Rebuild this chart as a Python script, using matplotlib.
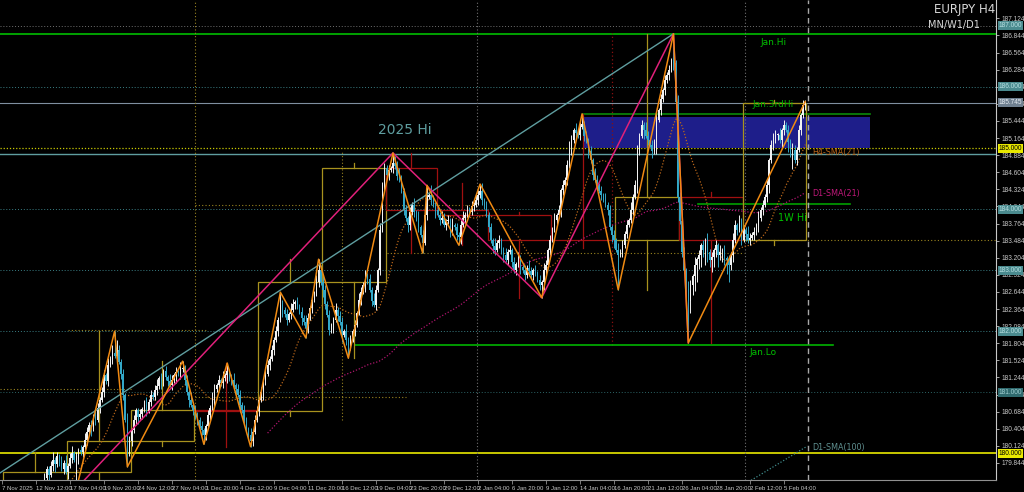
import numpy as np
import pandas as pd
import matplotlib
matplotlib.use("Agg")
import matplotlib.pyplot as plt
from matplotlib.patches import Rectangle

# EURJPY H4 closes, in hundredths of a yen above 180.00, 16 bars per row
# bar 0 = 7 Nov 20:00, last bar = 6 Feb 20:00
close_rows = [
    "-300 -280 -290 -260 -240 -230 -210 -215 -190 -170 -160 -150 -140 -120 -110 -100",
    "-90 -80 -70 -55 -40 -25 -35 -20 -10 -18 -5 -12 -25 -15 -30 -20",
    "-8 0 -10 -5 5 2 10 22 35 47 40 60 55 75 88 100",
    "128 118 145 155 165 160 170 150 130 95 55 0 20 38 55 71",
    "60 65 72 80 70 85 96 92 104 110 123 118 135 125 118 112",
    "120 128 133 130 138 140 120 100 88 80 71 60 55 45 38 30",
    "45 63 75 88 105 112 120 115 123 128 135 122 120 112 105 96",
    "80 71 55 40 30 20 35 55 70 88 100 120 130 145 155 169",
    "186 200 219 243 235 228 219 228 235 245 248 240 232 222 215 205",
    "222 238 252 262 280 300 280 268 245 227 202 210 219 235 225 215",
    "194 200 186 178 186 200 211 230 251 265 276 292 285 268 250 243",
    "268 300 366 440 468 456 464 467 475 470 455 448 430 399 385 374",
    "395 407 395 385 370 358 345 390 420 423 415 407 398 391 382 385",
    "374 380 382 366 374 370 358 355 374 385 391 399 395 405 407 415",
    "423 430 415 405 391 370 349 340 333 345 349 330 325 317 330 333",
    "314 300 310 317 305 300 292 304 298 292 300 295 284 276 280 300",
    "309 333 350 366 382 390 399 431 440 448 472 500 513 529 525 521",
    "535 540 520 513 495 480 456 448 439 430 423 415 407 399 370 358",
    "349 333 325 330 341 360 374 382 399 420 439 497 520 538 530 520",
    "513 505 495 510 546 562 580 595 611 620 628 644 640 575 420 380",
    "330 300 270 250 276 290 309 318 325 341 333 349 330 317 322 333",
    "341 325 330 333 320 317 309 325 349 374 366 382 350 366 360 349",
    "353 358 362 374 385 399 407 420 439 480 505 513 521 521 513 529",
    "538 530 510 489 497 480 497 529 554 571 574",
]
# wick lengths above / below the body, in units of 0.04 yen
wick_up_rows = [
    "2131 2213 1221 3121", "1213 2112 3121 2131", "2312 1213 2121 3212", "2131 3242 1213 2121",
    "1212 3121 2312 1213", "2121 3212 1312 2121", "1213 2121 3121 2312", "2121 1312 2121 3212",
    "1213 2121 3212 1213", "2121 3123 2121 1312", "2131 2121 3212 1213", "2131 2121 2323 2121",
    "2131 3121 2142 1213", "2121 3121 2312 1213", "2131 2121 3121 2312", "1213 2121 3212 1213",
    "2121 3121 2123 2131", "2312 1213 2121 3121", "2131 2121 3122 1213", "2121 3121 2121 3132",
    "1213 2131 2121 3121", "2131 2121 3212 1213", "2121 3121 2123 2131", "2121 3212 121",
]
wick_dn_rows = [
    "1213 2121 3121 2312", "2121 3121 2312 1213", "1212 3121 2131 2121", "2121 2131 2213 1212",
    "3121 2121 1213 2121", "2131 2121 3121 2121", "2121 3121 2131 2121", "3121 2121 1213 2121",
    "2121 3121 2121 1313", "2121 1213 2121 3121", "3121 2121 1213 2121", "2121 3121 2121 1213",
    "2121 2131 2121 3121", "1213 2121 3121 2121", "2121 1213 2121 3121", "2121 3121 2121 1213",
    "2121 1213 2121 3121", "2121 3121 2121 1213", "3121 2121 1213 2141", "2131 5121 2121 3121",
    "2143 5467 4536 4354", "3524 3672 3121 2131", "2121 3121 2312 1213", "2141 6121 212",
]

# zigzag swing points (bar, price)
zz_bars = [35, 53, 59, 85, 95, 106, 117, 131, 143, 149, 163, 184, 198, 200, 215, 225, 254, 273, 290, 316, 323, 378]
zz_prices = [179.42, 182.00, 179.78, 181.51, 180.15, 181.48, 180.11, 182.64, 181.89, 183.18, 181.56, 184.92,
             183.28, 184.39, 183.41, 184.41, 182.55, 185.56, 182.68, 186.87, 181.81, 185.76]
big_zz_bars = [27, 184, 254, 316, 323]
big_zz_prices = [179.13, 184.92, 182.55, 186.87, 181.81]
trend_bars = [-1, 316]
trend_prices = [179.68, 186.87]
sma100_bars = [345, 379]
sma100_prices = [179.40, 180.12]

week_starts = [1, 31, 61, 91, 121, 151, 181, 205, 229, 259, 289, 319, 349]

tick_bars = list(range(0, 369, 16))
tick_labels = ["7 Nov 2025", "12 Nov 12:00", "17 Nov 04:00", "19 Nov 20:00", "24 Nov 12:00", "27 Nov 04:00",
               "1 Dec 20:00", "4 Dec 12:00", "9 Dec 04:00", "11 Dec 20:00", "16 Dec 12:00", "19 Dec 04:00",
               "23 Dec 20:00", "29 Dec 12:00", "2 Jan 04:00", "6 Jan 20:00", "9 Jan 12:00", "14 Jan 04:00",
               "16 Jan 20:00", "21 Jan 12:00", "26 Jan 04:00", "28 Jan 20:00", "2 Feb 12:00", "5 Feb 04:00"]
price_ticks = [179.844, 180.124, 180.404, 180.684, 180.964, 181.244, 181.524, 181.804, 182.084, 182.364,
               182.644, 182.924, 183.204, 183.484, 183.764, 184.044, 184.324, 184.604, 184.884, 185.164,
               185.444, 185.724, 186.004, 186.284, 186.564, 186.844, 187.124]

# price tags on the scale: (price, background, text colour)
tags = [(187.0, "#4a8a8e", "#b8e0e2"), (186.0, "#4a8a8e", "#b8e0e2"), (185.745, "#6f8090", "#e8eef4"),
        (185.0, "#e8e800", "#000000"), (184.0, "#4a8a8e", "#b8e0e2"), (183.0, "#4a8a8e", "#b8e0e2"),
        (182.0, "#4a8a8e", "#b8e0e2"), (181.0, "#2f6a6e", "#a0cfd2"), (180.0, "#e8e800", "#000000")]

# full width levels: (price, colour, linestyle, width)
levels = [(187.0, "#707070", (0, (1, 2)), 0.7), (186.87, "#00b000", "-", 1.3), (186.0, "#3a7f85", (0, (1, 2)), 0.7),
          (185.745, "#7f8fa0", "-", 0.8), (185.0, "#c8c800", (0, (1, 1.5)), 0.9), (184.90, "#5f9ea0", "-", 1.0),
          (184.0, "#3a7f85", (0, (1, 2)), 0.7), (183.0, "#3a7f85", (0, (1, 2)), 0.7),
          (182.0, "#3a7f85", (0, (1, 2)), 0.7), (181.0, "#2c6466", (0, (1, 2)), 0.7), (180.0, "#d8d800", "-", 1.3)]
# partial levels: (bar from, bar to, price, colour)
green_levels = [(273.4, 408.5, 185.56, "#0a8a0a"), (327.5, 399, 184.08, "#00a000"), (166, 391, 181.776, "#00b400")]
olive_dotted = [(91, 224, 184.07), (181, 349, 183.28), (91, 190, 180.93), (-1, 61, 181.05), (31, 97, 182.02),
                (349, 468, 183.50)]

closes = 180 + np.array(" ".join(close_rows).split(), dtype=float) / 100
wick_up = np.array([int(d) for d in "".join(wick_up_rows).replace(" ", "")]) * 0.04
wick_dn = np.array([int(d) for d in "".join(wick_dn_rows).replace(" ", "")]) * 0.04
bars = np.arange(len(closes))
opens = np.r_[closes[0], closes[:-1]]
highs = np.maximum(opens, closes) + wick_up
lows = np.minimum(opens, closes) - wick_dn
for k, (b, p) in enumerate(zip(zz_bars, zz_prices)):
    nb = zz_prices[k - 1] if k > 0 else zz_prices[k + 1]
    if p > nb:
        highs[b] = max(highs[b], p)
    else:
        lows[b] = min(lows[b], p)

small = "Liberation Sans"
bg = "black"
fig = plt.figure(figsize=(10.24, 4.92), dpi=100, facecolor=bg)
ax = fig.add_axes([0, 12 / 492, 996 / 1024, 480 / 492], facecolor=bg)
ax.set_xlim(-0.94, 467.8)
ax.set_ylim(179.565, 187.424)

for p, c, ls, lw in levels:
    ax.axhline(p, color=c, ls=ls, lw=lw, zorder=1)
for x0, x1, p in olive_dotted:
    ax.plot([x0, x1], [p, p], color="#9a8420", ls=(0, (1, 2)), lw=0.8, zorder=1)
for x0, x1, p, c in green_levels:
    ax.plot([x0, x1], [p, p], color=c, lw=1.2, zorder=2)
ax.add_patch(Rectangle((273.4, 185.0), 408.5 - 273.4, 0.51, facecolor="#1e1e8a", edgecolor="none", zorder=1))

# period separators
ax.axvline(91, color="#9a8420", ls=(0, (1, 2)), lw=0.8, zorder=1)
ax.axvline(223.5, color="#707070", ls=(0, (1, 2)), lw=0.8, zorder=1)
ax.axvline(349.5, color="#707070", ls=(0, (1, 2)), lw=0.8, zorder=1)
ax.axvline(287, ymin=(181.78 - 179.565) / 7.859, ymax=(186.88 - 179.565) / 7.859,
           color="#8a1010", ls=(0, (1, 2)), lw=0.9, zorder=1)
ax.plot([160, 160], [180.55, 184.97], color="#9a8420", ls=(0, (1, 2)), lw=0.8, zorder=1)
ax.axvline(379.3, color="#a8a8a8", ls=(0, (4, 3)), lw=1.0, zorder=6)

# weekly candles
ends = week_starts[1:] + [len(closes)]
for s, e in zip(week_starts, ends):
    o, c = opens[s], closes[e - 1]
    h, l = highs[s:e].max(), lows[s:e].min()
    col = "#a8921e" if c >= o else "#a01010"
    ax.add_patch(Rectangle((s - 0.5, min(o, c)), e - s, abs(c - o), fill=False, edgecolor=col, lw=0.9, zorder=2))
    mid = (s + e - 1) / 2
    ax.plot([mid, mid], [max(o, c), h], color=col, lw=0.9, zorder=2)
    ax.plot([mid, mid], [l, min(o, c)], color=col, lw=0.9, zorder=2)

# moving averages
sma21 = pd.Series(closes).rolling(21).mean()
sma126 = pd.Series(closes).rolling(126).mean()
ax.plot(bars, sma21, color="#b8661a", ls=(0, (1, 1.5)), lw=0.9, zorder=3)
ax.plot(bars, sma126, color="#b0156e", ls=(0, (1, 1.5)), lw=0.9, zorder=3)
ax.plot(sma100_bars, sma100_prices, color="#3f8a8a", ls=(0, (1, 1.5)), lw=0.9, zorder=3)

# H4 candles
up = closes >= opens
cols = np.where(up, "#f2f2f2", "#33a8c8")
ax.vlines(bars, lows, highs, colors=cols, lw=0.7, zorder=4)
ax.bar(bars, np.maximum(np.abs(closes - opens), 0.012), bottom=np.minimum(opens, closes),
       width=0.75, color=cols, linewidth=0, zorder=4)

ax.plot(trend_bars, trend_prices, color="#5f9ea0", lw=1.0, zorder=5)
ax.plot(big_zz_bars, big_zz_prices, color="#e0207a", lw=1.1, zorder=5)
ax.plot(zz_bars, zz_prices, color="#f08a12", lw=1.1, zorder=5)

# labels on the chart
ax.text(189.6, 185.30, "2025 Hi", color="#5f9ea0", fontsize=10, ha="center", va="center", zorder=6)
ax.text(363, 186.72, "Jan.Hi", color="#00c000", fontsize=6.5, ha="center", va="center", zorder=6)
ax.text(363, 185.705, "Jan.3rdHi", color="#00b000", fontsize=6.5, ha="center", va="center", zorder=6)
ax.text(381.2, 184.92, "H4-SMA(21)", color="#b8661a", fontsize=5.8, ha="left", va="center", zorder=6)
ax.text(381.2, 184.25, "D1-SMA(21)", color="#c0187a", fontsize=5.8, ha="left", va="center", zorder=6)
ax.text(372.2, 183.85, "1W Hi", color="#00c000", fontsize=7, ha="center", va="center", zorder=6)
ax.text(358.1, 181.66, "Jan.Lo", color="#00c000", fontsize=6.5, ha="center", va="center", zorder=6)
ax.text(381.2, 180.105, "D1-SMA(100)", color="#5f9090", fontsize=5.8, ha="left", va="center", zorder=6)

fig.text(995 / 1024, 1 - 10 / 492, "EURJPY H4", color="#d8d8d8", fontsize=8.5, ha="right", va="center")
fig.text(980 / 1024, 1 - 25 / 492, "MN/W1/D1", color="#d8d8d8", fontsize=7, ha="right", va="center")

# axes styling
for side in ["left", "top"]:
    ax.spines[side].set_visible(False)
ax.spines["right"].set_color("#c8c8c8")
ax.spines["bottom"].set_color("#909090")
ax.yaxis.tick_right()
ax.set_yticks(price_ticks)
ax.set_yticklabels([f"{t:.3f}" for t in price_ticks], fontfamily=small)
ax.tick_params(axis="y", length=2.5, width=0.6, color="#c0c0c0", labelsize=4.7, labelcolor="#c8c8c8", pad=1.5)
ax.set_xticks(tick_bars)
ax.set_xticklabels(tick_labels, fontfamily=small)
ax.tick_params(axis="x", length=3, width=0.6, color="#909090", labelsize=4.3, labelcolor="#c8c8c8", pad=1)
for lbl in ax.get_xticklabels():
    lbl.set_ha("left")

ytr = ax.get_yaxis_transform()
for p, fc, tc in tags:
    ax.text(1.003, p, f"{p:.3f}", transform=ytr, fontsize=4.7, family=small, color=tc, ha="left", va="center",
            clip_on=False, zorder=7, bbox=dict(boxstyle="square,pad=0.15", fc=fc, ec="none"))

fig.savefig("out.png", dpi=100, facecolor=bg)
